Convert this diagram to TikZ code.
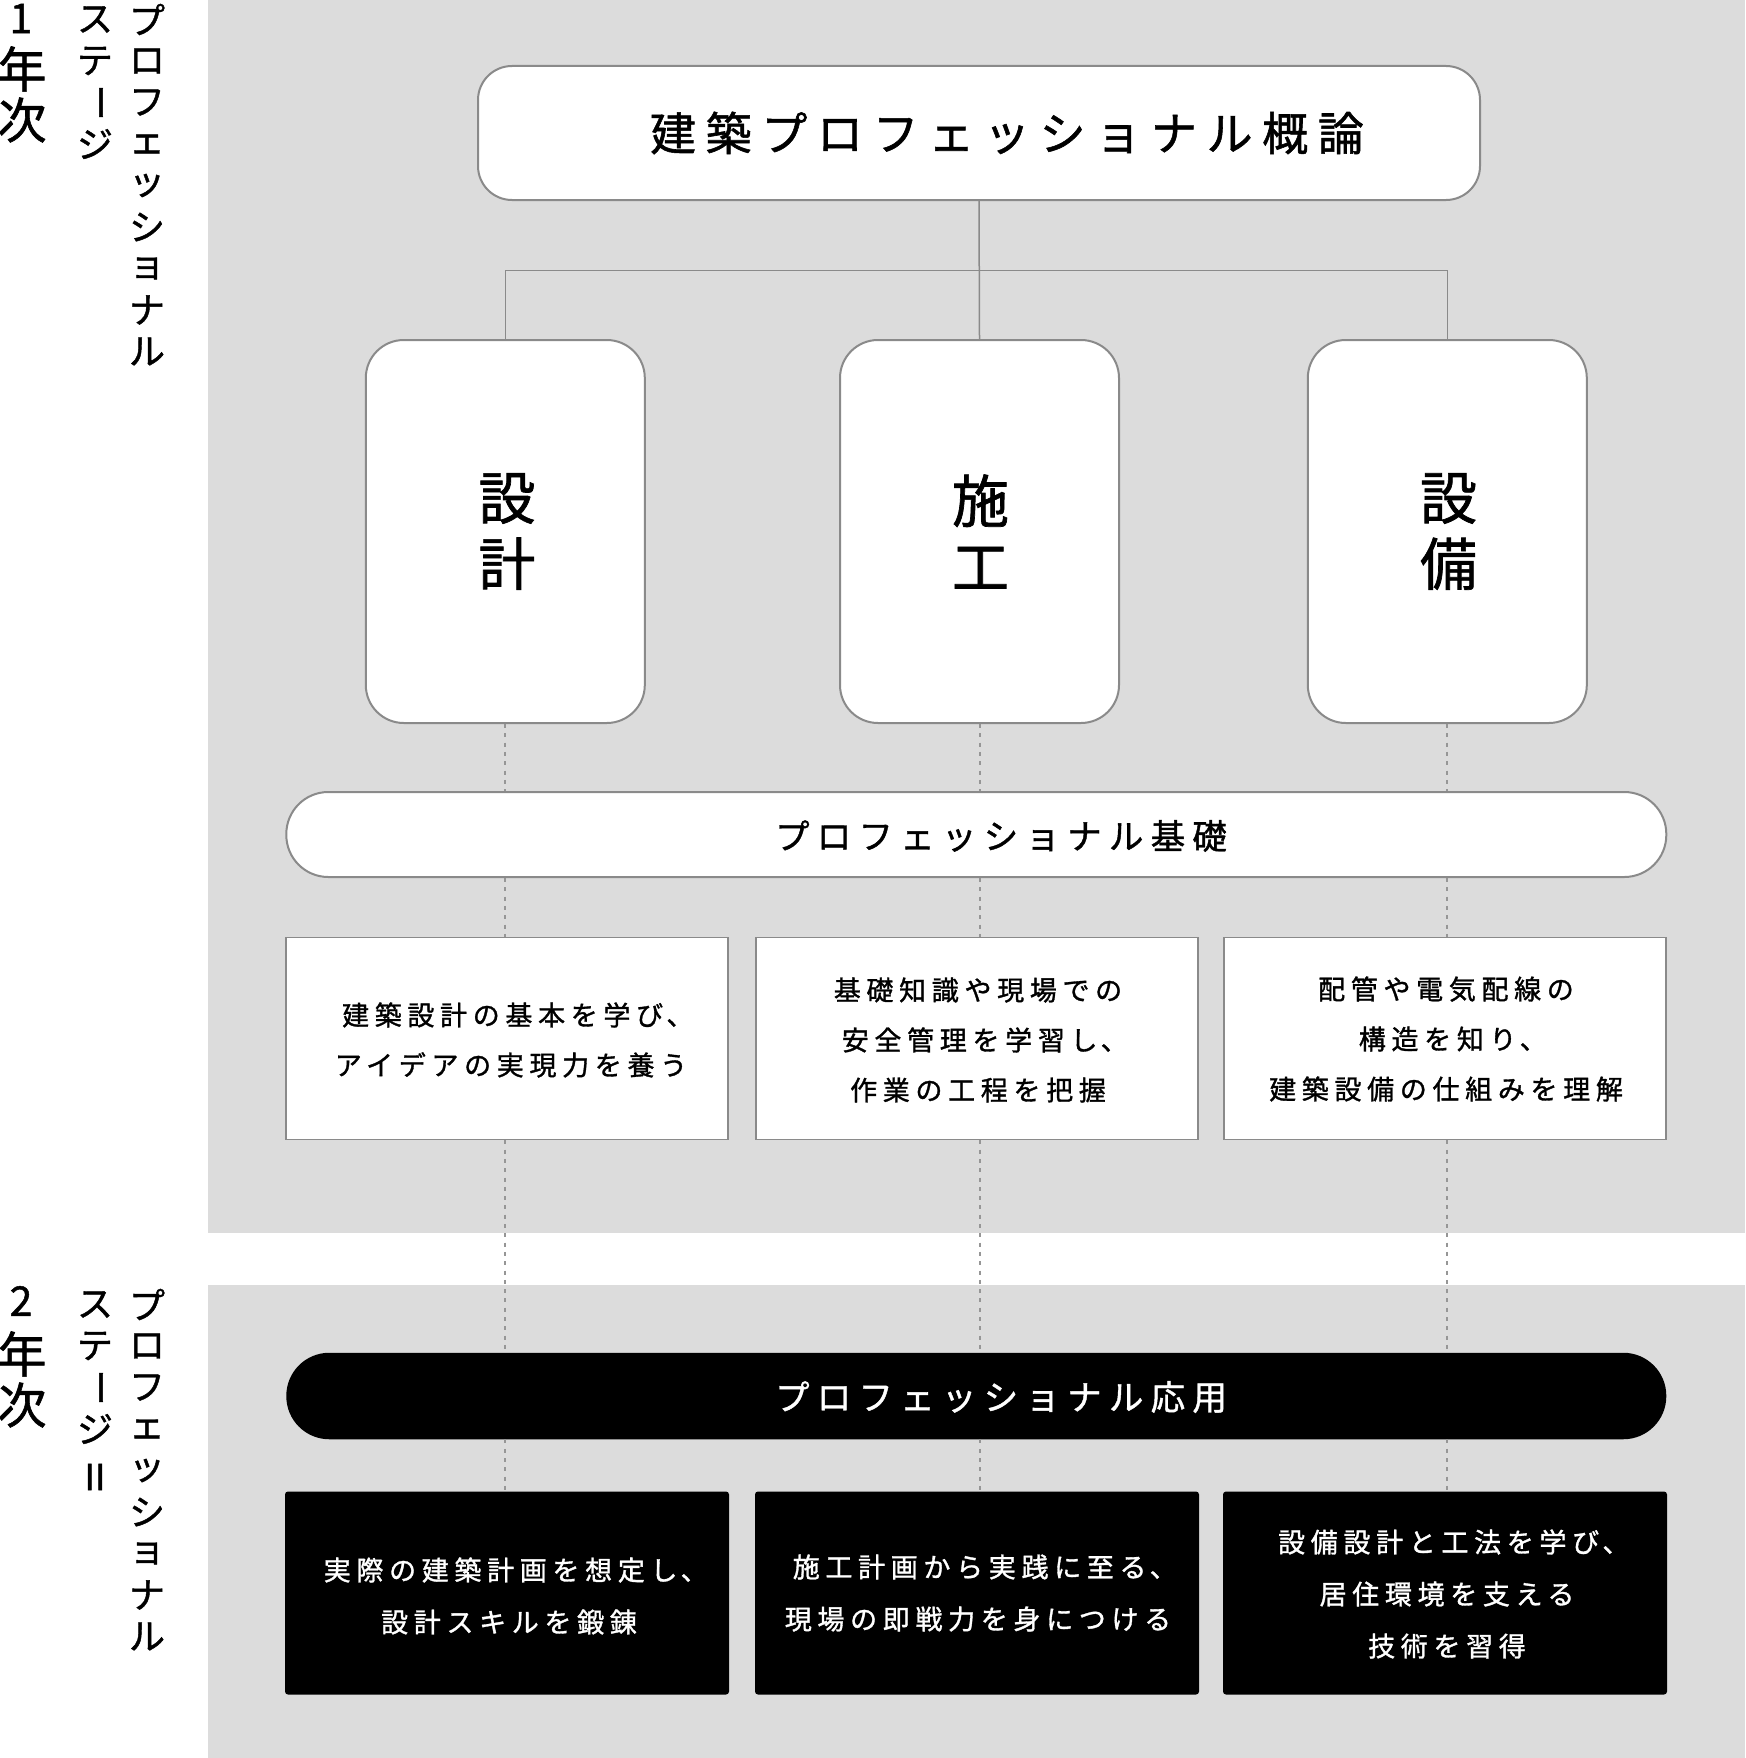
\documentclass[tikz,border=0pt]{standalone}
\usepackage{fontspec}
\setmainfont{Noto Sans CJK JP}[FakeBold=1.2]
\newfontfamily\jpls{Noto Sans CJK JP}[LetterSpace=21,FakeBold=1.2]
\newcommand\halftou{\hspace{0.12em}\makebox[0.5em][l]{、}}
\definecolor{panel}{RGB}{220,220,220}
\definecolor{edge}{RGB}{138,138,138}
\definecolor{dotc}{RGB}{150,150,150}
\tikzset{
  conn/.style={draw=edge, line width=1.5pt},
  dotconn/.style={draw=dotc, line width=2pt, dash pattern=on 4pt off 5.3pt},
  titlebox/.style={draw=edge, line width=2pt, fill=white, rounded corners=34pt, minimum width=1002pt, minimum height=134pt, inner sep=0pt},
  tallbox/.style={draw=edge, line width=2pt, fill=white, rounded corners=38pt, minimum width=279pt, minimum height=383pt, inner sep=0pt},
  talltxt/.style={inner sep=0pt, align=center, font=\fontsize{57}{66}\selectfont},
  pillbox/.style={draw=edge, line width=2pt, fill=white, rounded corners=42pt, minimum width=1380pt, minimum height=85pt, inner sep=0pt},
  blackpill/.style={fill=black, rounded corners=43pt, minimum width=1380pt, minimum height=86.5pt, inner sep=0pt},
  descbox/.style={draw=edge, line width=1.6pt, fill=white, minimum width=442pt, minimum height=202pt, inner sep=0pt},
  bdescbox/.style={fill=black, rounded corners=3pt, minimum width=444pt, minimum height=203pt, inner sep=0pt},
  desctxt/.style={inner sep=0pt, align=center, font=\jpls\fontsize{27}{50}\selectfont},
  bdesctxt/.style={inner sep=0pt, align=center, text=white, font=\jpls\fontsize{27}{52}\selectfont},
  titletxt/.style={inner sep=0pt, font=\jpls\fontsize{46}{46}\selectfont},
  pilltxt/.style={inner sep=0pt, font=\jpls\fontsize{34.5}{35}\selectfont},
  vlab/.style={inner sep=0pt, font=\fontsize{36}{36}\selectfont},
  yearlab/.style={inner sep=0pt, font=\fontsize{49}{49}\selectfont},
  digitlab/.style={inner sep=0pt, font=\fontsize{41}{41}\selectfont},
}
\begin{document}
\begin{tikzpicture}[x=1pt,y=-1pt]
\useasboundingbox (0,0) rectangle (1745,1758);
\fill[white] (0,0) rectangle (1745,1758);
% panels
\fill[panel] (208,0) rectangle (1745,1233);
\fill[panel] (208,1285) rectangle (1745,1758);

% side labels, stage 1
\node[digitlab] (ya1) at (21,18.5) {1};
\node[yearlab] (ya2) at (22,69) {年};
\node[yearlab] (ya3) at (22,120) {次};
\foreach \ch [count=\i from 0] in {ス,テ,{\rotatebox[origin=c]{-90}{ー}},ジ}
  \node[vlab] (sa\i) at (95,{19.5+41.5*\i}) {\ch};
\foreach \ch [count=\i from 0] in {プ,ロ,フ,ェ,ッ,シ,ョ,ナ,ル}
  \node[vlab] (pa\i) at (147,{19.5+41.5*\i}) {\ch};

% side labels, stage 2
\node[digitlab] (yb1) at (21,1301) {2};
\node[yearlab] (yb2) at (22,1354) {年};
\node[yearlab] (yb3) at (22,1405) {次};
\foreach \ch [count=\i from 0] in {ス,テ,{\rotatebox[origin=c]{-90}{ー}},ジ}
  \node[vlab] (sb\i) at (95,{1304.5+41.5*\i}) {\ch};
\node[vlab] (sb4) at (95,1477) {II};
\foreach \ch [count=\i from 0] in {プ,ロ,フ,ェ,ッ,シ,ョ,ナ,ル}
  \node[vlab] (pb\i) at (147,{1304.5+41.5*\i}) {\ch};

% title
\node[titlebox] (title) at (979,133) {};
\node[titletxt] (titlet) at (1007,133) {建築プロフェッショナル概論};

% tall boxes
\node[tallbox] (sekkei) at (505.3,531.5) {};
\node[tallbox] (sekou) at (979.5,531.5) {};
\node[tallbox] (setsubi) at (1447.3,531.5) {};
\node[talltxt] (sekkeit) at (507,531.5) {設\\計};
\node[talltxt] (sekout) at (980.5,531.5) {施\\工};
\node[talltxt] (setsubit) at (1448.5,531.5) {設\\備};

% connectors from title
\coordinate (hub) at (979.5,270.7);
\draw[conn] (title.south) -- (sekou.north);
\draw[conn] (sekkei.north) |- (hub) -| (setsubi.north);

% foundation pill
\node[pillbox] (kiso) at (976.3,834.5) {};
\node[pilltxt] (kisot) at (1001,836) {プロフェッショナル基礎};

% description boxes (year 1)
\node[descbox] (d1) at (507,1038.5) {};
\node[descbox] (d2) at (977,1038.5) {};
\node[descbox] (d3) at (1445,1038.5) {};
\node[desctxt] (d1t) at (511,1040) {建築設計の基本を学び\halftou\\アイデアの実現力を養う};
\node[desctxt] (d2t) at (978,1040) {基礎知識や現場での\\安全管理を学習し\halftou\\作業の工程を把握};
\node[desctxt] (d3t) at (1446,1039) {配管や電気配線の\\構造を知り\halftou\\建築設備の仕組みを理解};

% applied pill
\node[blackpill] (ouyou) at (976.3,1396) {};
\node[pilltxt, text=white] (ouyout) at (1001,1397) {プロフェッショナル応用};

% description boxes (year 2)
\node[bdescbox] (e1) at (507,1593) {};
\node[bdescbox] (e2) at (977,1593) {};
\node[bdescbox] (e3) at (1445,1593) {};
\node[bdesctxt] (e1t) at (509,1596) {実際の建築計画を想定し\halftou\\設計スキルを鍛錬};
\node[bdesctxt] (e2t) at (978,1593) {施工計画から実践に至る\halftou\\現場の即戦力を身につける};
\node[bdesctxt] (e3t) at (1447,1594) {設備設計と工法を学び\halftou\\居住環境を支える\\技術を習得};

% dotted connectors
\foreach \t/\d/\e in {sekkei/d1/e1, sekou/d2/e2, setsubi/d3/e3}{
  \draw[dotconn] (\t.south) -- (kiso.north -| \t.south);
  \draw[dotconn] (kiso.south -| \t.south) -- (\d.north -| \t.south);
  \draw[dotconn] (\d.south -| \t.south) -- (ouyou.north -| \t.south);
  \draw[dotconn] (ouyou.south -| \t.south) -- (\e.north -| \t.south);
}
\end{tikzpicture}
\end{document}
